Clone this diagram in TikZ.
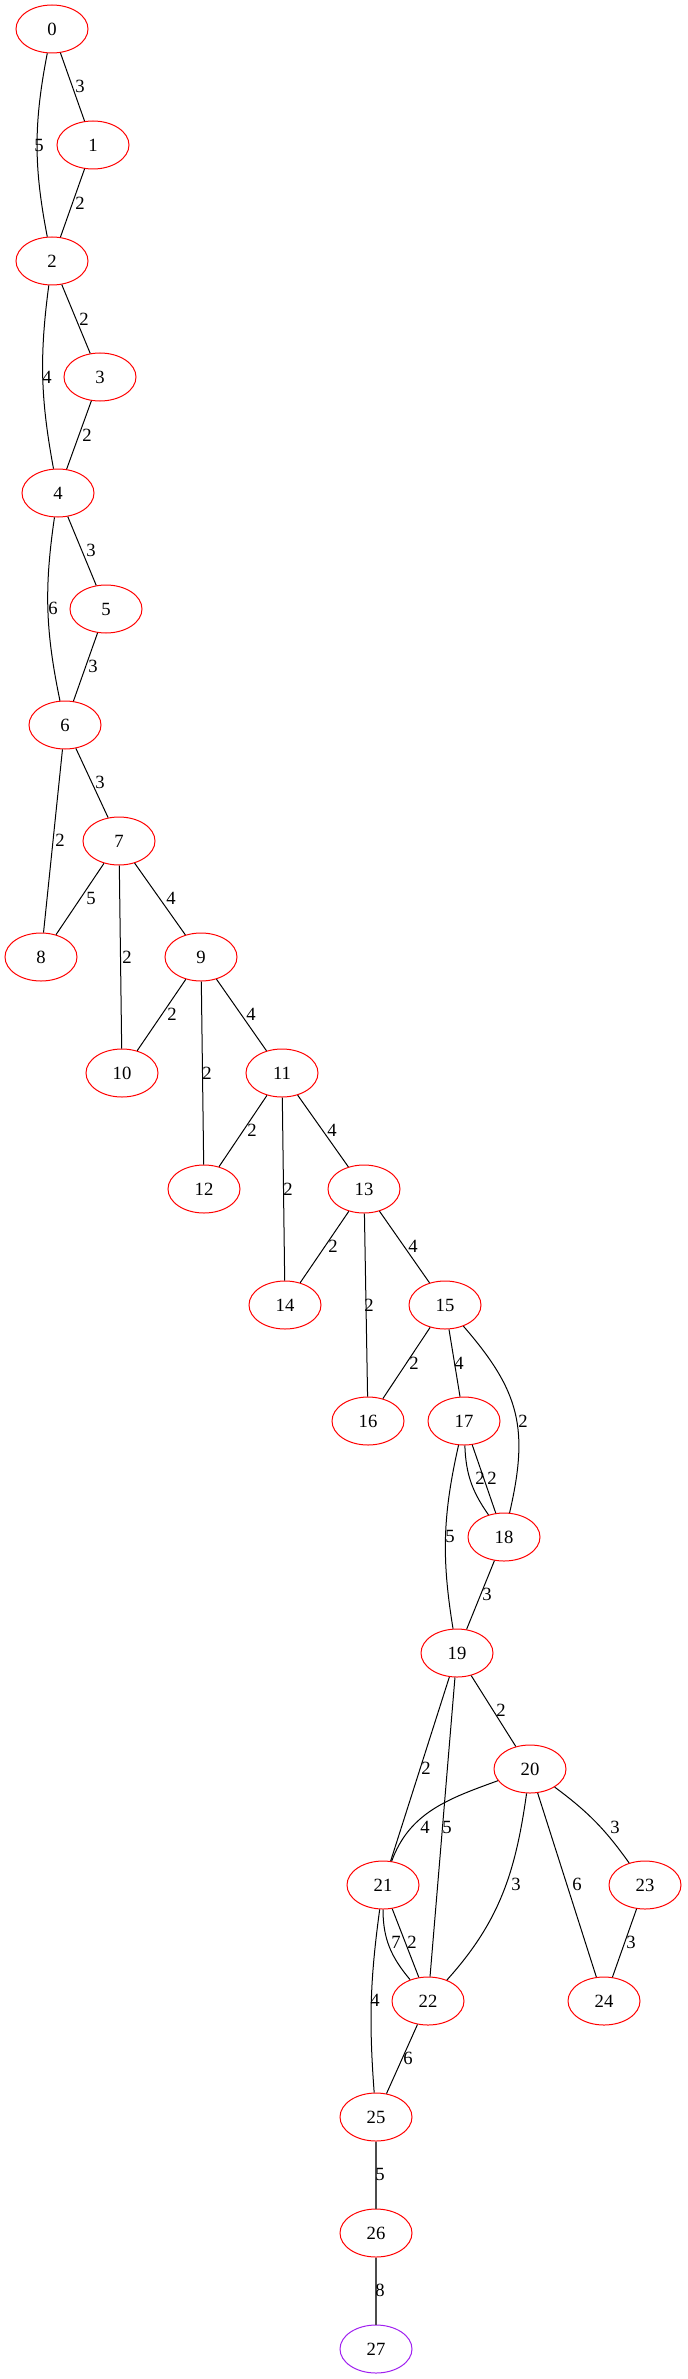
\documentclass[tikz,border=0pt]{standalone}
\usepackage{fontspec}
\setmainfont{Liberation Serif}
\usetikzlibrary{shapes.geometric}
\definecolor{gvpurple}{RGB}{160,32,240}
\begin{document}
\begin{tikzpicture}[x=0.75pt,y=0.75pt,
  nd/.style={ellipse, draw=red, line width=0.75pt, minimum width=54pt, minimum height=36pt, inner sep=0pt, font=\fontsize{14}{16}\selectfont},
  endnd/.style={nd, draw=gvpurple},
  lbl/.style={inner sep=0pt, font=\fontsize{14}{16}\selectfont},
  ed/.style={draw=black, line width=0.75pt},
  thk/.style={draw=black!70, line width=1.6pt}]
\useasboundingbox[fill=white] (0,0) rectangle (687,-2379);
% nodes
\node[nd] (n0) at (52,-29) {0};
\node[nd] (n1) at (93,-145) {1};
\node[nd] (n2) at (52,-261) {2};
\node[nd] (n3) at (100,-377) {3};
\node[nd] (n4) at (58,-493) {4};
\node[nd] (n5) at (106,-609) {5};
\node[nd] (n6) at (65,-725) {6};
\node[nd] (n7) at (119,-841) {7};
\node[nd] (n8) at (41,-957) {8};
\node[nd] (n9) at (201,-957) {9};
\node[nd] (n10) at (122,-1073) {10};
\node[nd] (n11) at (282,-1073) {11};
\node[nd] (n12) at (204,-1189) {12};
\node[nd] (n13) at (364,-1189) {13};
\node[nd] (n14) at (285,-1305) {14};
\node[nd] (n15) at (445,-1305) {15};
\node[nd] (n16) at (368,-1421) {16};
\node[nd] (n17) at (464,-1421) {17};
\node[nd] (n18) at (504,-1537) {18};
\node[nd] (n19) at (457,-1653) {19};
\node[nd] (n20) at (530,-1769) {20};
\node[nd] (n21) at (383,-1885) {21};
\node[nd] (n22) at (428,-2001) {22};
\node[nd] (n23) at (645,-1885) {23};
\node[nd] (n24) at (604,-2001) {24};
\node[nd] (n25) at (376,-2117) {25};
\node[nd] (n26) at (376,-2233) {26};
\node[endnd] (n27) at (376,-2349) {27};
% edges
\draw[ed] (n0) -- (n1) node[lbl] at (80,-86) {3};
\draw[ed] (n0) to[bend right=11] (n2) node[lbl] at (39,-145) {5};
\draw[ed] (n1) -- (n2) node[lbl] at (80,-203) {2};
\draw[ed] (n2) -- (n3) node[lbl] at (84,-319) {2};
\draw[ed] (n2) to[bend right=9] (n4) node[lbl] at (47,-377) {4};
\draw[ed] (n3) -- (n4) node[lbl] at (87,-435) {2};
\draw[ed] (n4) -- (n5) node[lbl] at (91,-550) {3};
\draw[ed] (n4) to[bend right=10] (n6) node[lbl] at (53,-608) {6};
\draw[ed] (n5) -- (n6) node[lbl] at (93,-666) {3};
\draw[ed] (n6) -- (n7) node[lbl] at (100,-782) {3};
\draw[ed] (n6) -- (n8) node[lbl] at (60,-840) {2};
\draw[ed] (n7) -- (n8) node[lbl] at (91,-898) {5};
\draw[ed] (n7) -- (n9) node[lbl] at (171,-898) {4};
\draw[ed] (n7) -- (n10) node[lbl] at (127,-957) {2};
\draw[ed] (n9) -- (n10) node[lbl] at (172,-1014) {2};
\draw[ed] (n9) -- (n11) node[lbl] at (251,-1014) {4};
\draw[ed] (n9) -- (n12) node[lbl] at (207,-1073) {2};
\draw[ed] (n11) -- (n12) node[lbl] at (252,-1130) {2};
\draw[ed] (n11) -- (n13) node[lbl] at (332,-1130) {4};
\draw[ed] (n11) -- (n14) node[lbl] at (288,-1189) {2};
\draw[ed] (n13) -- (n14) node[lbl] at (333,-1246) {2};
\draw[ed] (n13) -- (n15) node[lbl] at (413,-1246) {4};
\draw[ed] (n13) -- (n16) node[lbl] at (369,-1305) {2};
\draw[ed] (n15) -- (n16) node[lbl] at (414,-1363) {2};
\draw[ed] (n15) -- (n17) node[lbl] at (459,-1363) {4};
\draw[ed] (n15) to[out=-49,in=77,looseness=1.15] (n18) node[lbl] at (523,-1421) {2};
\draw[ed] (n17) to[out=-88,in=125] (n18) node[lbl] at (480,-1478) {2};
\draw[ed] (n17) -- (n18) node[lbl] at (492,-1478) {2};
\draw[ed] (n17) to[bend right=11] (n19) node[lbl] at (450,-1536) {5};
\draw[ed] (n18) -- (n19) node[lbl] at (487,-1594) {3};
\draw[ed] (n19) -- (n20) node[lbl] at (501,-1710) {2};
\draw[ed] (n19) -- (n21) node[lbl] at (426,-1768) {2};
\draw[ed] (n19) -- (n22) node[lbl] at (447,-1827) {5};
\draw[ed] (n20) to[out=200,in=70] (n21) node[lbl] at (425,-1827) {4};
\draw[ed] (n20) to[out=-98,in=48] (n22) node[lbl] at (516,-1884) {3};
\draw[ed] (n20) -- (n24) node[lbl] at (577,-1884) {6};
\draw[ed] (n20) to[bend left=9] (n23) node[lbl] at (615,-1827) {3};
\draw[ed] (n23) -- (n24) node[lbl] at (631,-1942) {3};
\draw[ed] (n21) to[out=-90,in=130] (n22) node[lbl] at (396,-1942) {7};
\draw[ed] (n21) -- (n22) node[lbl] at (412,-1942) {2};
\draw[ed] (n21) to[bend right=6] (n25) node[lbl] at (375,-2000) {4};
\draw[ed] (n22) -- (n25) node[lbl] at (408,-2058) {6};
\draw[thk] (n25) -- (n26) node[lbl] at (380,-2174) {5};
\draw[thk] (n26) -- (n27) node[lbl] at (380,-2290) {8};
\end{tikzpicture}
\end{document}
